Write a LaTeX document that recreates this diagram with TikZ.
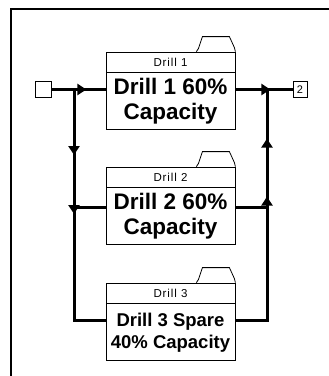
\documentclass[tikz,border=0pt]{standalone}
\usepackage{fontspec}
\setmainfont{Liberation Sans}
\usetikzlibrary{arrows.meta,decorations.markings}

\begin{document}
\begin{tikzpicture}[x=1pt, y=-1pt, >={Triangle[length=9pt,width=11pt]},
  every node/.style={inner sep=0pt},
  wire/.style={line width=3pt},
  drillhead/.style={draw, line width=0.8pt, minimum width=129pt, minimum height=20pt, font=\fontsize{11.5}{12}\selectfont\addfontfeature{LetterSpace=8}},
  drillbody/.style={draw, line width=0.8pt, minimum width=129pt, minimum height=57pt, align=center, font=\fontsize{22.5}{25}\selectfont\bfseries},
  port/.style={draw, line width=0.8pt, minimum width=16pt, minimum height=16pt, font=\fontsize{11}{12}\selectfont},
  tips/.style={postaction={decorate}, decoration={markings, #1}}]
\useasboundingbox (0,0) rectangle (329,376);
\draw[line width=1.5pt] (11,376) -- (11,9) -- (329,9);

% drills
\node[drillhead] (h1) at (170.5,62) {Drill 1};
\node[drillbody, anchor=north] (d1) at (h1.south) {Drill 1 60\%\\Capacity};
\node[drillhead] (h2) at (170.5,177) {Drill 2};
\node[drillbody, anchor=north] (d2) at (h2.south) {Drill 2 60\%\\Capacity};
\node[drillhead] (h3) at (170.5,293) {Drill 3};
\node[drillbody, anchor=north, font=\fontsize{18.5}{22}\selectfont\bfseries] (d3) at (h3.south) {Drill 3 Spare\\40\% Capacity};
\foreach \h in {h1,h2,h3}
  \draw[line width=0.8pt] ([xshift=-39pt]\h.north east) -- ++(2,-3) -- ++(4,-12) -- ++(27,0) -- ++(5,11) -- (\h.north east);

% ports and rails
\node[port] (in) at (43,89.5) {};
\node[port, minimum width=14pt] (out) at (300,89.5) {2};
\coordinate (left) at (74,0);
\coordinate (right) at (267,0);
\coordinate (r2) at (0,207);
\coordinate (r3) at (0,320);

\draw[wire, tips={mark=at position 35pt with {\arrow{>}}}] (in) -- (in -| d1.west);
\draw[wire, tips={mark=at position 65.5pt with {\arrow{>}}, mark=at position 124.5pt with {\arrow{>}}}]
  (in -| left) -- (left |- r3) -- (d3.west |- r3);
\draw[wire] (left |- r2) -- (d2.west |- r2);
\draw[wire, tips={mark=at position 155pt with {\arrow{>}}, mark=at position 213pt with {\arrow{>}}}]
  (d3.east |- r3) -- (right |- r3) -- (right |- in);
\draw[wire] (d2.east |- r2) -- (right |- r2);
\draw[wire, tips={mark=at position 35pt with {\arrow{>}}}] (d1.east |- in) -- (out);
\end{tikzpicture}
\end{document}
